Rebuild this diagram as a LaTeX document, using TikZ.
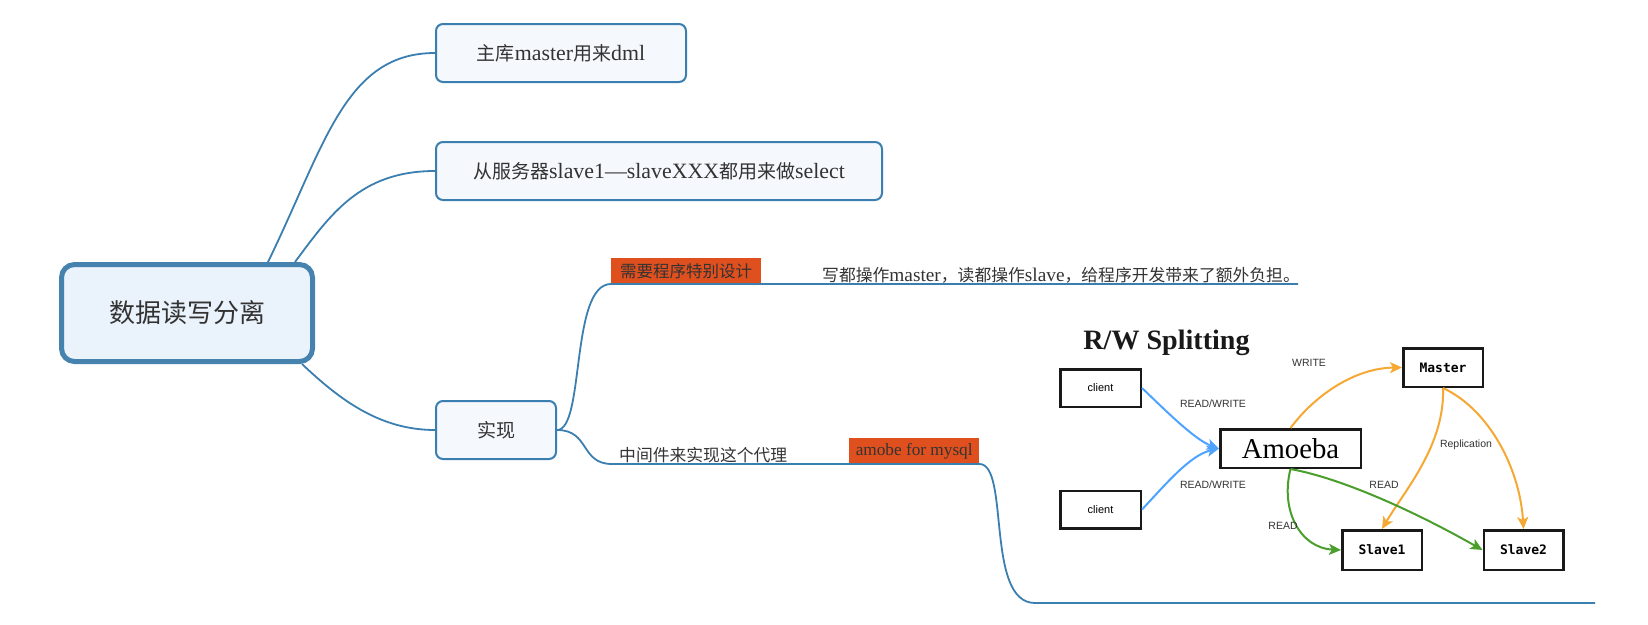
\documentclass[tikz,border=0pt]{standalone}
\usepackage{fontspec}
\setmainfont{Liberation Serif}[Scale=1.15]
\newfontfamily\cjk{Noto Sans CJK SC}
\newfontfamily\sansfont{Liberation Sans}
\newfontfamily\monofont{DejaVu Sans Mono}
\usetikzlibrary{arrows.meta}
\definecolor{mapblue}{HTML}{3B7EB0}
\definecolor{topicline}{HTML}{4682AE}
\definecolor{topicfill}{HTML}{EAF2FB}
\definecolor{subfill}{HTML}{F5F8FC}
\definecolor{tagred}{HTML}{E0501F}
\definecolor{ink}{HTML}{333333}
\definecolor{rwblue}{HTML}{4DA3FF}
\definecolor{rworange}{HTML}{F5A833}
\definecolor{rwgreen}{HTML}{4A9E2C}
\tikzset{
    topic/.style={draw=topicline, line width=5pt, rounded corners=13pt, fill=topicfill,
        minimum width=251, minimum height=97, text=ink, font=\cjk\fontsize{26}{30}\selectfont},
    subtopic/.style={draw=mapblue, line width=2pt, rounded corners=7pt, fill=subfill,
        minimum height=58, text=ink, font=\fontsize{19}{22}\selectfont},
    link/.style={draw=mapblue, line width=1.8pt},
    tag/.style={fill=tagred, text=ink, inner sep=0pt, minimum height=26},
    note/.style={text=ink, inner sep=0pt},
    rwbox/.style={draw=black!90, line width=2.5pt, inner sep=0pt},
    rwlabel/.style={text=ink, font=\sansfont\fontsize{10.5}{12}\selectfont, inner sep=0pt},
    rwarrow/.style={line width=2pt, -{Stealth[length=12pt,width=11pt,inset=3pt]}}
}
\begin{document}
\begin{tikzpicture}[x=1pt,y=-1pt]
\useasboundingbox (0,0) rectangle (1648,624);
\node[topic] (root) at (187,313) {数据读写分离};
\node[subtopic, minimum width=250] (master) at (561,53) {{\cjk 主库}master{\cjk 用来}dml};
\node[subtopic, minimum width=446] (slave) at (659,171) {{\cjk 从服务器}slave1—slaveXXX{\cjk 都用来做}select};
\node[subtopic, minimum width=120] (impl) at (496,430) {{\cjk 实现}};
\draw[link] ([xshift=-47]root.north east) .. controls (325,145) and (345,53) .. (master.west);
\draw[link] ([xshift=-20]root.north east) .. controls (330,215) and (360,171) .. (slave.west);
\draw[link] ([xshift=-13]root.south east) .. controls (340,400) and (380,430) .. (impl.west);

\node[tag, minimum width=150, anchor=south west] (design) at (611,284) {\cjk\fontsize{16.5}{18}\selectfont 需要程序特别设计};
\node[note, anchor=base west] (burden) at (822,281) {\fontsize{16.8}{19}\selectfont{\cjk 写都操作}master{\cjk ，读都操作}slave{\cjk ，给程序开发带来了额外负担。}};
\coordinate (topend) at (1298,284);
\draw[link] (impl.east) .. controls (585,430) and (570,284) .. (design.south west) -- (topend);

\node[note, anchor=base west] (proxy) at (619,461) {\cjk\fontsize{16.8}{19}\selectfont 中间件来实现这个代理};
\node[tag, minimum width=130, anchor=south west] (amobe) at (849,464) {\fontsize{15}{18}\selectfont amobe for mysql};
\coordinate (lowend) at (1595,603);
\draw[link] (impl.east) .. controls (590,430) and (580,464) .. (612,464) -- (amobe.south east)
    .. controls (1010,464) and (985,603) .. (1035,603) -- (lowend);

\node[inner sep=0pt, text=black!90, font=\bfseries\fontsize{24.4}{28}\selectfont] (rwtitle) at (1166.5,343) {R/W Splitting};
\node[rwbox, minimum width=80.5, minimum height=37.5, font=\sansfont\fontsize{11}{13}\selectfont] (clientA) at (1100.5,388) {client};
\node[rwbox, minimum width=80.5, minimum height=37.5, font=\sansfont\fontsize{11}{13}\selectfont] (clientB) at (1100.5,509.5) {client};
\node[rwbox, minimum width=140.5, minimum height=38.5, font=\fontsize{25}{28}\selectfont] (amoeba) at (1290.5,448.5) {Amoeba};
\node[rwbox, minimum width=79.5, minimum height=38.5, font=\monofont\bfseries\fontsize{13}{15}\selectfont] (mast) at (1443,367.5) {Master};
\node[rwbox, minimum width=79.5, minimum height=39.5, font=\monofont\bfseries\fontsize{13}{15}\selectfont] (slaveA) at (1382,550) {Slave1};
\node[rwbox, minimum width=79.5, minimum height=39.5, font=\monofont\bfseries\fontsize{13}{15}\selectfont] (slaveB) at (1523.5,550) {Slave2};

\draw[rwarrow, rwblue] (clientA.east) .. controls (1165,410) and (1195,440) .. (amoeba.west);
\draw[rwarrow, rwblue] (clientB.east) .. controls (1165,485) and (1190,455) .. (amoeba.west);
\draw[rwarrow, rworange] (amoeba.north) .. controls (1315,395) and (1355,368) .. (mast.west);
\draw[rwarrow, rworange] (mast.south) .. controls (1445,445) and (1405,490) .. (slaveA.north);
\draw[rwarrow, rworange] (mast.south) .. controls (1490,410) and (1520,470) .. (slaveB.north);
\draw[rwarrow, rwgreen] (amoeba.south) .. controls (1280,510) and (1300,548) .. (slaveA.west);
\draw[rwarrow, rwgreen] (amoeba.south) .. controls (1350,480) and (1430,520) .. (slaveB.west);

\node[rwlabel] (rwA) at (1213,404) {READ/WRITE};
\node[rwlabel] (rwB) at (1213,485) {READ/WRITE};
\node[rwlabel] (wr) at (1309,363) {WRITE};
\node[rwlabel] (rep) at (1466,445) {Replication};
\node[rwlabel] (rdA) at (1283,526) {READ};
\node[rwlabel] (rdB) at (1384,485) {READ};
\end{tikzpicture}
\end{document}
